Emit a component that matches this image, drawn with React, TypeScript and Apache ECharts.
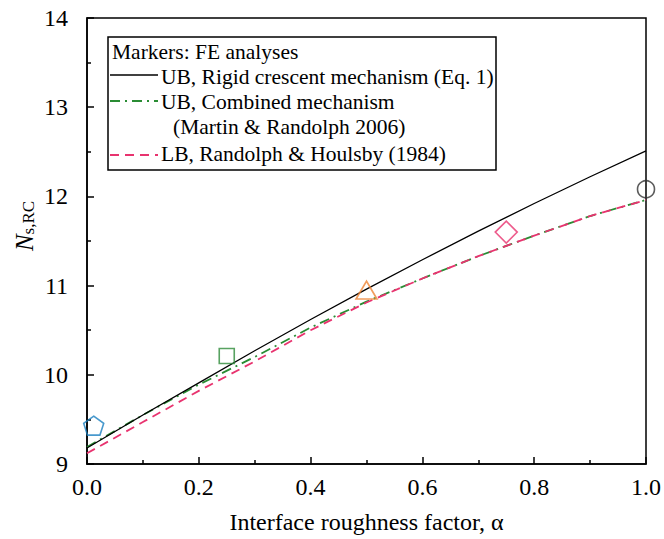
import React, { useEffect, useRef } from "react";
import * as echarts from "echarts";

const alphaGrid = [0, 0.1, 0.2, 0.3, 0.4, 0.5, 0.6, 0.7, 0.8, 0.9, 1.0];
const ubRigid = [9.18, 9.55, 9.91, 10.27, 10.62, 10.96, 11.29, 11.61, 11.92, 12.22, 12.51];
const ubCombined = [9.19, 9.55, 9.89, 10.2, 10.53, 10.82, 11.08, 11.33, 11.56, 11.78, 11.96];
const lbRH = [9.12, 9.47, 9.82, 10.15, 10.5, 10.81, 11.08, 11.33, 11.56, 11.78, 11.96];

const feAlpha = [0.012, 0.25, 0.5, 0.75, 1.0];
const feN = [9.43, 10.21, 10.95, 11.6, 12.08];
const feColors = ["#1a7fc1", "#2e8b3a", "#ef8535", "#e8336f", "#333333"];
const feSymbols = [
  "path://M0,-10 L9.51,-3.09 L5.88,8.09 L-5.88,8.09 L-9.51,-3.09 Z",
  "rect",
  "triangle",
  "diamond",
  "circle",
];
const feSizes: any[] = [[20, 19], 15, [21, 18], [22, 22], 17];

const xTicks = [0, 0.2, 0.4, 0.6, 0.8, 1.0];
const yTicks = [9, 10, 11, 12, 13, 14];

const FONT = "Liberation Serif";

export default function App() {
  const ref = useRef<HTMLDivElement>(null);
  useEffect(() => {
    if (!ref.current) return;
    const chart = echarts.init(ref.current, null, { renderer: "svg" });
    const pairs = (ys: number[]) => alphaGrid.map((x, i) => [x, ys[i]]);
    const scatterSeries = feAlpha.map((a, i) => ({
      type: "scatter",
      data: [[a, feN[i]]],
      symbol: feSymbols[i],
      symbolSize: feSizes[i],
      itemStyle: { color: "rgba(0,0,0,0)", borderColor: feColors[i], borderWidth: 1.6 },
      z: 5,
      silent: true,
    }));
    const rows = [52, 77, 102, 127, 154];
    const txt = (x: number, y: number, text: string) => ({
      type: "text",
      x,
      y,
      style: { text, fontFamily: FONT, fontSize: 21.5, fill: "#000", verticalAlign: "middle", align: "left" },
      z: 11,
    });
    chart.setOption({
      animation: false,
      backgroundColor: "#fff",
      textStyle: { fontFamily: FONT },
      grid: {
        left: 87,
        right: 16,
        top: 18,
        bottom: 74,
        show: true,
        borderColor: "#000",
        borderWidth: 1.5,
        backgroundColor: "transparent",
      },
      xAxis: {
        type: "value",
        min: 0,
        max: 1,
        interval: 0.2,
        name: "Interface roughness factor, α",
        nameLocation: "middle",
        nameGap: 46,
        nameTextStyle: { fontFamily: FONT, fontSize: 24, color: "#000" },
        axisLine: { show: true, lineStyle: { color: "#000", width: 1.5 } },
        axisTick: { show: true, inside: true, length: 7, lineStyle: { color: "#000", width: 1.5 } },
        minorTick: { show: true, splitNumber: 2, length: 4, lineStyle: { color: "#000", width: 1.5 } },
        splitLine: { show: false },
        axisLabel: {
          margin: 11,
          fontFamily: FONT,
          fontSize: 24,
          color: "#000",
          formatter: (v: number) => (xTicks.includes(Math.round(v * 10) / 10) ? v.toFixed(1) : ""),
        },
      },
      yAxis: {
        type: "value",
        min: 9,
        max: 14,
        interval: 1,
        axisLine: { show: true, lineStyle: { color: "#000", width: 1.5 } },
        axisTick: { show: true, inside: true, length: 7, lineStyle: { color: "#000", width: 1.5 } },
        minorTick: { show: true, splitNumber: 2, length: 4, lineStyle: { color: "#000", width: 1.5 } },
        splitLine: { show: false },
        axisLabel: {
          margin: 19,
          fontFamily: FONT,
          fontSize: 24,
          color: "#000",
          formatter: (v: number) => (yTicks.includes(v) ? String(v) : ""),
        },
      },
      series: [
        {
          type: "line",
          data: pairs(ubRigid),
          showSymbol: false,
          lineStyle: { color: "#000", width: 1.3, type: "solid" },
          z: 3,
          silent: true,
        },
        {
          type: "line",
          data: pairs(ubCombined),
          showSymbol: false,
          lineStyle: { color: "#2a8c34", width: 1.8, type: [10, 5, 2, 5] },
          z: 2,
          silent: true,
        },
        {
          type: "line",
          data: pairs(lbRH),
          showSymbol: false,
          lineStyle: { color: "#e8336f", width: 1.8, type: [9, 6] },
          z: 2,
          silent: true,
        },
        ...scatterSeries,
      ],
      graphic: [
        {
          type: "rect",
          shape: { x: 108, y: 37, width: 388, height: 133 },
          style: { fill: "#fff", stroke: "#000", lineWidth: 1.5 },
          z: 10,
        },
        txt(112, rows[0], "Markers: FE analyses"),
        {
          type: "line",
          shape: { x1: 110, y1: rows[1] - 2, x2: 158, y2: rows[1] - 2 },
          style: { stroke: "#000", lineWidth: 1.3 },
          z: 11,
        },
        txt(161, rows[1], "UB, Rigid crescent mechanism (Eq. 1)"),
        {
          type: "line",
          shape: { x1: 110, y1: rows[2] - 1, x2: 158, y2: rows[2] - 1 },
          style: { stroke: "#2a8c34", lineWidth: 1.8, lineDash: [10, 5, 2, 5] },
          z: 11,
        },
        txt(161, rows[2], "UB, Combined mechanism"),
        txt(173, rows[3], "(Martin & Randolph 2006)"),
        {
          type: "line",
          shape: { x1: 110, y1: rows[4] + 1, x2: 158, y2: rows[4] + 1 },
          style: { stroke: "#e8336f", lineWidth: 1.8, lineDash: [9, 6] },
          z: 11,
        },
        txt(161, rows[4], "LB, Randolph & Houlsby (1984)"),
        {
          type: "text",
          x: 22,
          y: 226,
          rotation: Math.PI / 2,
          style: {
            text: "{n|N}{s|s,RC}",
            align: "center",
            verticalAlign: "middle",
            rich: {
              n: { fontFamily: FONT, fontSize: 25, fontStyle: "italic", fill: "#000", lineHeight: 30, verticalAlign: "bottom" },
              s: { fontFamily: FONT, fontSize: 17, fill: "#000", lineHeight: 30, verticalAlign: "bottom", padding: [7, 0, 0, 0] },
            },
          },
          z: 11,
        },
      ],
    });
    return () => chart.dispose();
  }, []);
  return (
    <div
      ref={ref}
      style={{ position: "fixed", left: 0, top: 0, width: 664, height: 539 }}
    />
  );
}
